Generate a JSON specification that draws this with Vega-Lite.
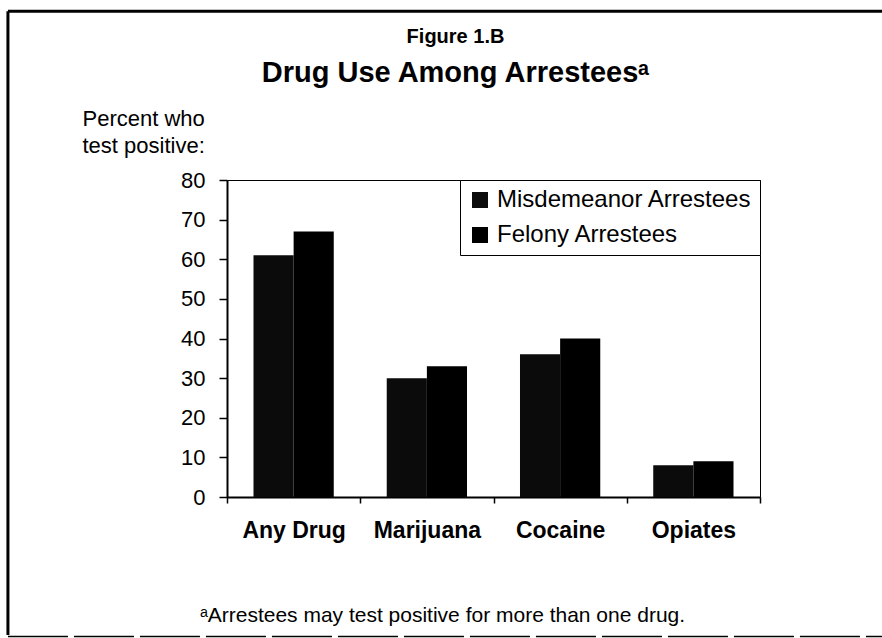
{
  "$schema": "https://vega.github.io/schema/vega-lite/v6.json",
  "width": 533,
  "height": 317,
  "autosize": "none",
  "padding": {"left": 227, "top": 180, "right": 122, "bottom": 141},
  "background": "white",
  "config": {
    "font": "Liberation Sans",
    "view": {"stroke": "#000", "strokeWidth": 1}
  },
  "title": {
    "text": "Figure 1.B",
    "subtitle": "Drug Use Among Arrestees\u1d43",
    "anchor": "middle",
    "dx": -38,
    "offset": -78,
    "fontSize": 20,
    "fontWeight": "bold",
    "color": "#000",
    "subtitleFontSize": 29,
    "subtitleFontWeight": "bold",
    "subtitleColor": "#000",
    "subtitlePadding": 12
  },
  "datasets": {
    "rates": [
      {"drug": "Any Drug", "group": "Misdemeanor Arrestees", "percent": 61},
      {"drug": "Any Drug", "group": "Felony Arrestees", "percent": 67},
      {"drug": "Marijuana", "group": "Misdemeanor Arrestees", "percent": 30},
      {"drug": "Marijuana", "group": "Felony Arrestees", "percent": 33},
      {"drug": "Cocaine", "group": "Misdemeanor Arrestees", "percent": 36},
      {"drug": "Cocaine", "group": "Felony Arrestees", "percent": 40},
      {"drug": "Opiates", "group": "Misdemeanor Arrestees", "percent": 8},
      {"drug": "Opiates", "group": "Felony Arrestees", "percent": 9}
    ]
  },
  "resolve": {"scale": {"x": "independent", "y": "independent"}},
  "layer": [
    {
      "data": {"name": "rates"},
      "mark": {"type": "bar"},
      "encoding": {
        "x": {
          "field": "drug",
          "type": "nominal",
          "sort": ["Any Drug", "Marijuana", "Cocaine", "Opiates"],
          "scale": {"paddingInner": 0, "paddingOuter": 0},
          "axis": {
            "title": "\u1d43Arrestees may test positive for more than one drug.",
            "titleFontSize": 21,
            "titleFontWeight": "normal",
            "titleColor": "#000",
            "titleX": 215,
            "titleY": 124,
            "titleAlign": "center",
            "titleBaseline": "alphabetic",
            "labelAngle": 0,
            "labelFontSize": 23,
            "labelFontWeight": "bold",
            "labelColor": "#000",
            "labelPadding": 16,
            "tickBand": "extent",
            "tickSize": 6,
            "tickColor": "#000",
            "tickWidth": 1.5,
            "domainColor": "#000",
            "domainWidth": 2,
            "grid": false
          }
        },
        "xOffset": {
          "field": "group",
          "type": "nominal",
          "sort": ["Misdemeanor Arrestees", "Felony Arrestees"],
          "scale": {"paddingInner": 0, "paddingOuter": 0.66}
        },
        "y": {
          "field": "percent",
          "type": "quantitative",
          "scale": {"domain": [0, 80], "nice": false},
          "axis": {
            "values": [0, 10, 20, 30, 40, 50, 60, 70, 80],
            "labelOverlap": false,
            "title": ["Percent who", "test positive:"],
            "titleAngle": 0,
            "titleAlign": "left",
            "titleBaseline": "alphabetic",
            "titleX": -145,
            "titleY": -55,
            "titleLineHeight": 27,
            "titleFontSize": 22,
            "titleFontWeight": "normal",
            "titleColor": "#000",
            "labelFontSize": 22,
            "labelColor": "#000",
            "labelPadding": 14,
            "tickSize": 8,
            "tickColor": "#000",
            "tickWidth": 1.5,
            "domainColor": "#000",
            "domainWidth": 2,
            "grid": false
          }
        },
        "color": {
          "field": "group",
          "type": "nominal",
          "sort": ["Misdemeanor Arrestees", "Felony Arrestees"],
          "scale": {"range": ["#0b0b0b", "#000000"]},
          "legend": {
            "title": null,
            "orient": "top-right",
            "offset": 0,
            "strokeColor": "#000",
            "fillColor": "white",
            "padding": 8,
            "labelFontSize": 24,
            "labelLimit": 400,
            "labelColor": "#000",
            "labelOffset": 5,
            "symbolType": "square",
            "symbolSize": 256,
            "symbolStrokeWidth": 0,
            "rowPadding": 11
          }
        }
      }
    },
    {
      "data": {"values": [{}]},
      "mark": {"type": "rule", "color": "#000", "strokeWidth": 3},
      "encoding": {
        "x": {"datum": -0.411, "type": "quantitative", "scale": {"domain": [0, 1]}, "axis": null},
        "y": {"datum": 122.6, "type": "quantitative", "scale": {"domain": [0, 80]}, "axis": null},
        "y2": {"datum": -34.8}
      }
    },
    {
      "data": {"values": [{}]},
      "mark": {"type": "rule", "color": "#000", "strokeWidth": 3},
      "encoding": {
        "x": {"datum": -0.411, "type": "quantitative", "scale": {"domain": [0, 1]}, "axis": null},
        "x2": {"datum": 1.231},
        "y": {"datum": 122.6, "type": "quantitative", "scale": {"domain": [0, 80]}, "axis": null}
      }
    },
    {
      "data": {"values": [{}]},
      "mark": {"type": "rule", "color": "#000", "strokeWidth": 1.5, "strokeDash": [60, 6]},
      "encoding": {
        "x": {"datum": -0.411, "type": "quantitative", "scale": {"domain": [0, 1]}, "axis": null},
        "x2": {"datum": 1.231},
        "y": {"datum": -35.2, "type": "quantitative", "scale": {"domain": [0, 80]}, "axis": null}
      }
    }
  ]
}
